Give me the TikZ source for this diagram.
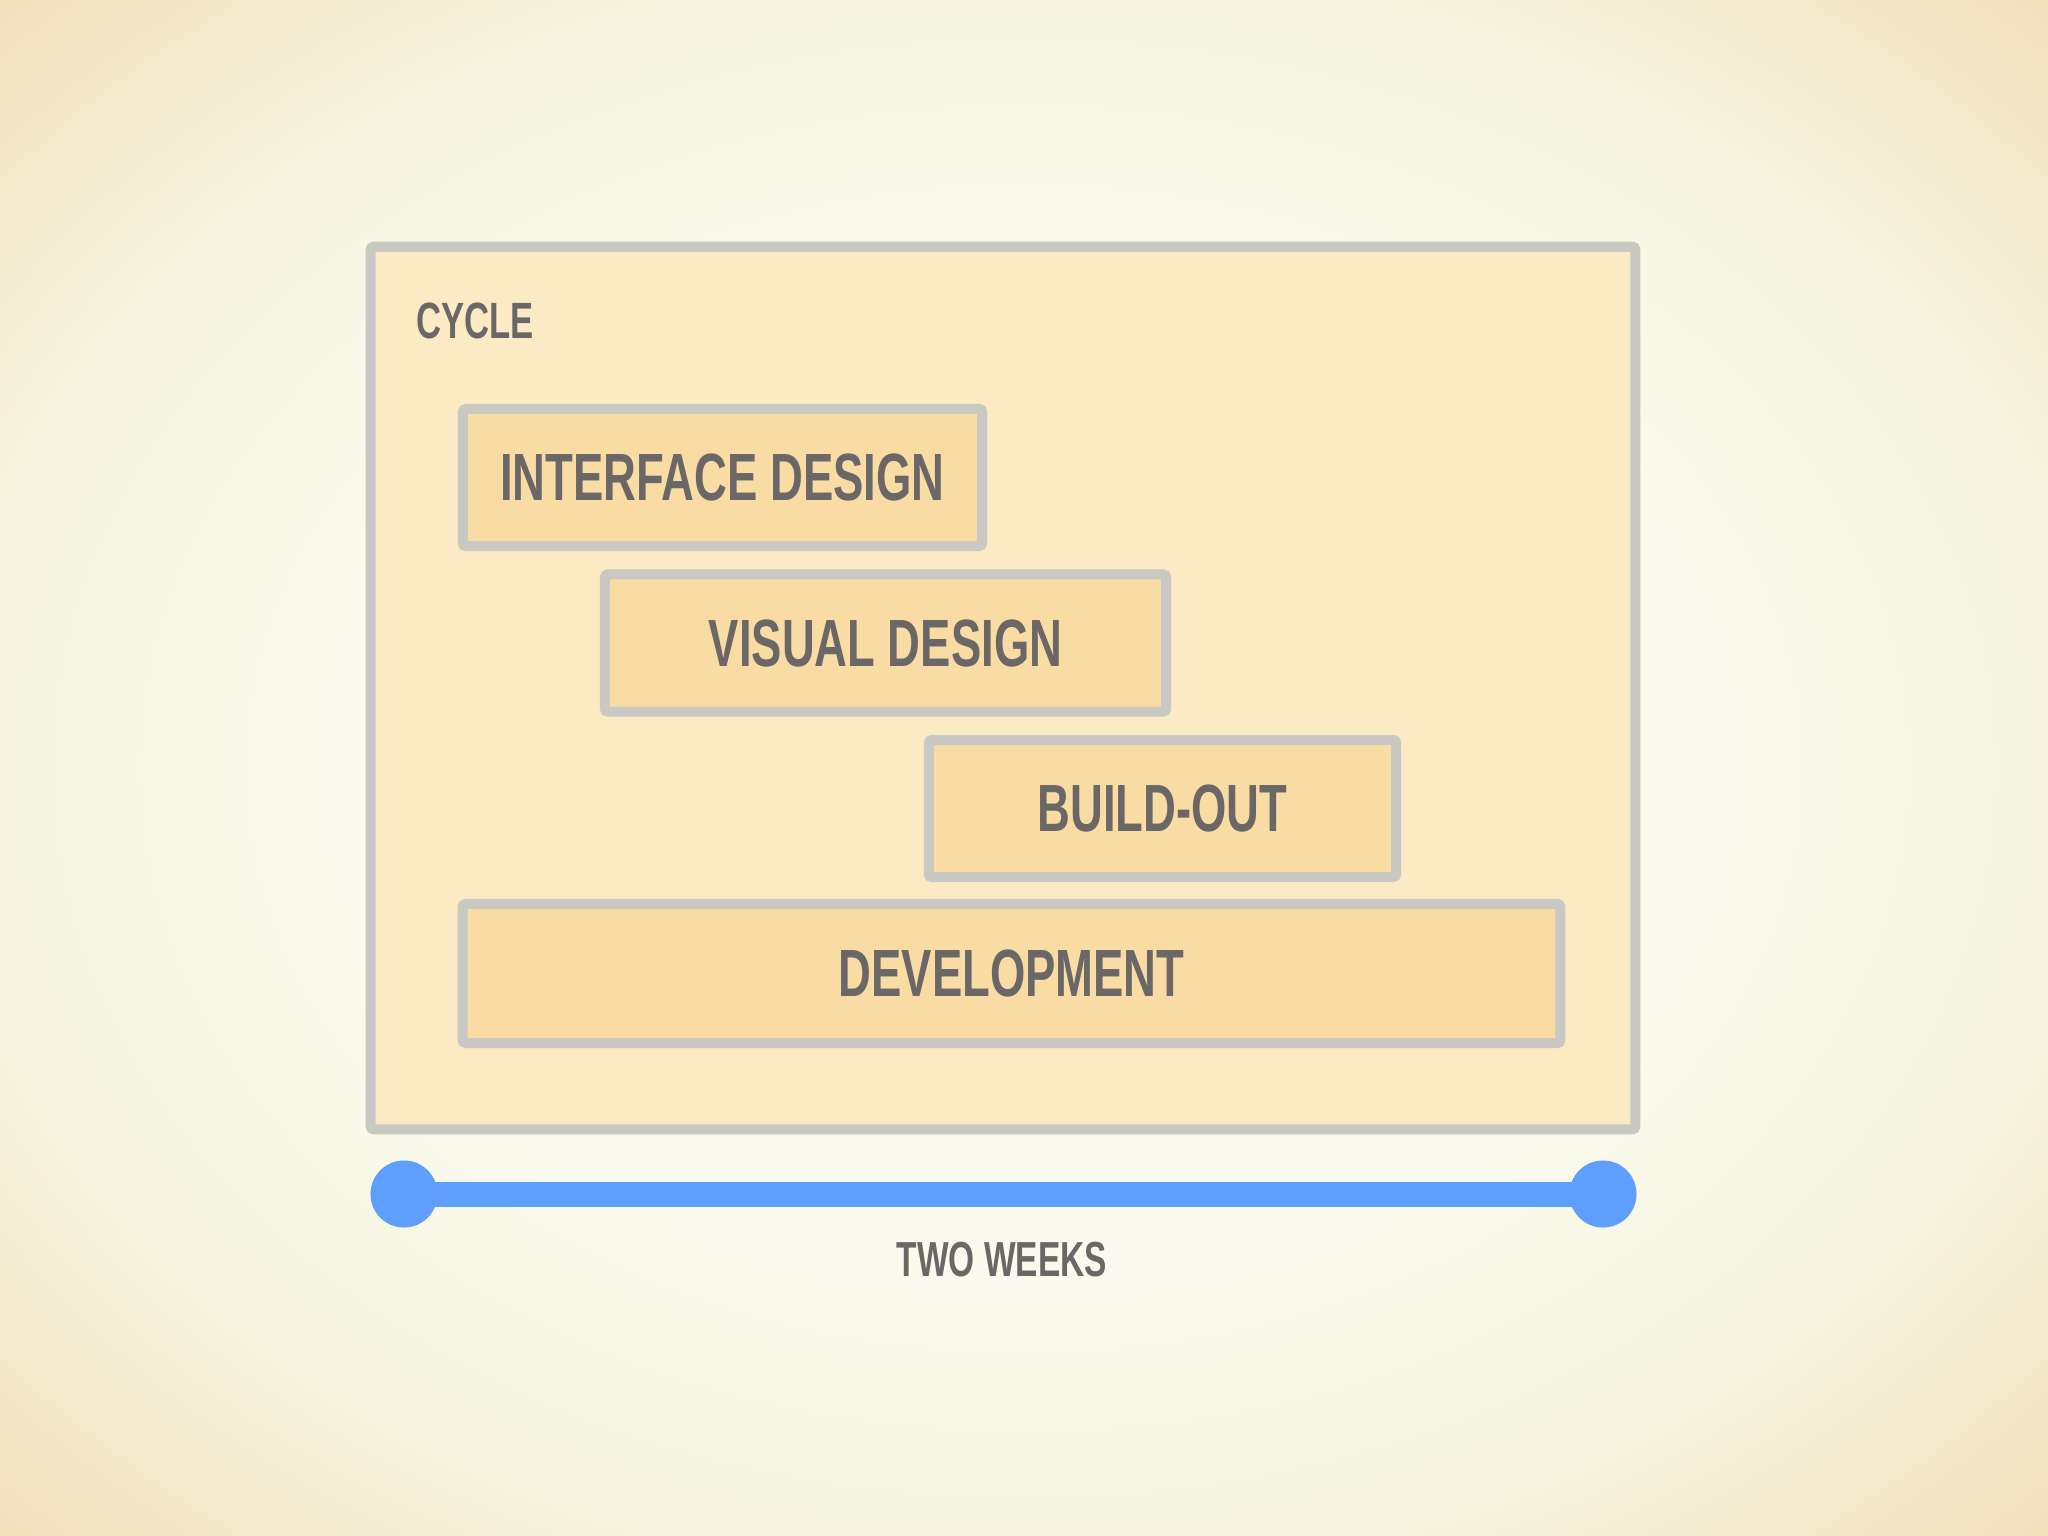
\documentclass[tikz,border=0pt]{standalone}
\usepackage{fontspec}
\newfontfamily\condfont[FakeStretch=0.68]{Liberation Sans}
\definecolor{bginner}{HTML}{FAFBEE}
\definecolor{bgmid}{HTML}{F7F5E2}
\definecolor{bgouter}{HTML}{F1E2BE}
\definecolor{cyclefill}{HTML}{FBEAC4}
\definecolor{phasefill}{HTML}{F9DCA3}
\definecolor{framegray}{HTML}{C9C8C3}
\definecolor{textgray}{HTML}{6A6766}
\definecolor{spanblue}{HTML}{5E9EFC}
\pgfdeclareradialshading{backdrop}{\pgfpoint{0bp}{0bp}}{color(0bp)=(bginner); color(17bp)=(bginner); color(25bp)=(bgmid); color(35bp)=(bgouter); color(50bp)=(bgouter)}
\begin{document}
\begin{tikzpicture}[
    x=0.01cm, y=-0.01cm,
    frame/.style={draw=framegray, line width=0.1cm, rounded corners=0.03cm, inner sep=0pt},
    phase/.style={frame, fill=phasefill, minimum height=1.37cm,
      text=textgray, font=\condfont\bfseries\fontsize{19}{19}\selectfont},
    caption/.style={text=textgray, font=\condfont\bfseries\fontsize{14}{14}\selectfont},
    dot/.style={circle, fill=spanblue, minimum size=0.67cm, inner sep=0pt}
  ]
  \shade[shading=backdrop] (0,0) rectangle (2048,1536);
  \useasboundingbox (0,0) rectangle (2048,1536);

  % the cycle
  \node[frame, fill=cyclefill, minimum width=12.64cm, minimum height=8.82cm] (cycle) at (1003,688) {};
  \node[caption, font=\condfont\bfseries\fontsize{14.5}{14.5}\selectfont] (cyclelabel) at (475,321) {CYCLE};

  % the phases
  \node[phase, minimum width=5.19cm] (interface) at (722.5,477.5) {INTERFACE DESIGN};
  \node[phase, minimum width=5.61cm] (visual) at (885.5,643) {VISUAL DESIGN};
  \node[phase, minimum width=4.67cm] (buildout) at (1162.5,808.5) {BUILD-OUT};
  \node[phase, minimum width=10.97cm, minimum height=1.39cm] (development) at (1011.5,973.5) {DEVELOPMENT};

  % the time span
  \coordinate (spanstart) at (404,1194);
  \coordinate (spanend) at (1603,1194);
  \draw[spanblue, line width=0.25cm] (spanstart) -- (spanend);
  \node[dot] (startdot) at (spanstart) {};
  \node[dot] (enddot) at (spanend) {};
  \node[caption] (span) at (1002,1260) {TWO WEEKS};
\end{tikzpicture}
\end{document}
